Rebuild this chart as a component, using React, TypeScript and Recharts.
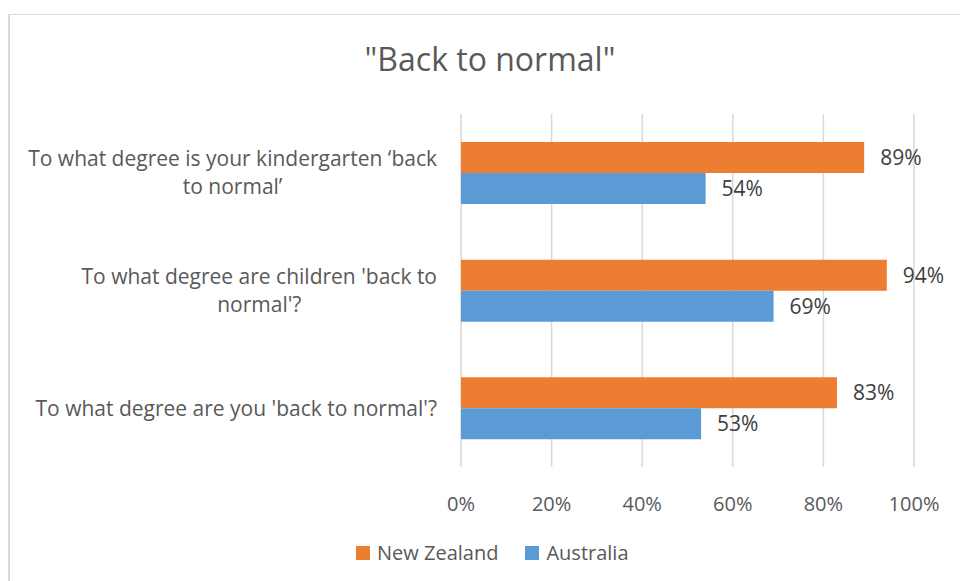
import React from 'react';
import { BarChart, Bar, XAxis, YAxis, CartesianGrid, Legend, LabelList } from 'recharts';

const categoryLines: string[][] = [
  ['To what degree is your kindergarten \u2018back', 'to normal\u2019'],
  ["To what degree are children 'back to", "normal'?"],
  ["To what degree are you 'back to normal'?"],
];
const categories = categoryLines.map((l) => l.join(' '));
const newZealand = [89, 94, 83];
const australia = [54, 69, 53];
const xTicks = [0, 20, 40, 60, 80, 100];
const seriesNames = ['New Zealand', 'Australia'];
const seriesColors = ['#ED7D31', '#5B9BD5'];
const title = '"Back to normal"';

const data = categories.map((c, i) => ({ category: c, nz: newZealand[i], au: australia[i] }));

const FONT = '"Open Sans", sans-serif';

let ctx: CanvasRenderingContext2D | null = null;
const measure = (text: string, size: number) => {
  if (!ctx) ctx = document.createElement('canvas').getContext('2d');
  if (!ctx) return text.length * size * 0.5;
  ctx.font = `${size}px "Open Sans"`;
  return ctx.measureText(text).width;
};

const CategoryTick = (props: any) => {
  const { x, y, payload } = props;
  const idx = categories.indexOf(payload.value);
  const lines = idx >= 0 ? categoryLines[idx] : [String(payload.value)];
  const size = 21;
  const maxW = Math.max(...lines.map((l) => measure(l, size)));
  const right = x - 24;
  const cx = right - maxW / 2;
  const lh = 28;
  const n = lines.length;
  return (
    <g>
      {lines.map((l, i) => (
        <text
          key={i}
          x={cx}
          y={y + 7.5 + (i - (n - 1) / 2) * lh}
          textAnchor="middle"
          fontSize={size}
          fontFamily={FONT}
          fill="#595959"
        >
          {l}
        </text>
      ))}
    </g>
  );
};

const XTick = (props: any) => {
  const { x, y, payload } = props;
  return (
    <text x={x} y={y + 44} textAnchor="middle" fontSize={20} fontFamily={FONT} fill="#595959">
      {`${payload.value}%`}
    </text>
  );
};

const LegendContent = () => (
  <div style={{ height: 24, position: 'relative', fontFamily: FONT, fontSize: 20, color: '#595959' }}>
    <div style={{ position: 'absolute', left: 356, top: 0, display: 'flex', alignItems: 'center', height: 24 }}>
      {seriesNames.map((name, i) => (
        <div key={name} style={{ display: 'flex', alignItems: 'center', marginRight: 27 }}>
          <span style={{ display: 'inline-block', width: 14, height: 14, background: seriesColors[i], marginRight: 7 }} />
          <span style={{ lineHeight: '24px', whiteSpace: 'nowrap' }}>{name}</span>
        </div>
      ))}
    </div>
  </div>
);

export default function App() {
  return (
    <div
      style={{
        position: 'absolute',
        left: 0,
        top: 0,
        width: 960,
        height: 581,
        overflow: 'hidden',
        background: '#fff',
        fontFamily: FONT,
      }}
    >
      <div
        style={{
          position: 'absolute',
          left: 8,
          top: 14,
          width: 1000,
          height: 700,
          borderLeft: '2px solid #d9d9d9',
          borderTop: '1.5px solid #d9d9d9',
          boxSizing: 'border-box',
        }}
      />
      <svg style={{ position: 'absolute', left: 0, top: 0 }} width={960} height={100}>
        <text x={490} y={71} textAnchor="middle" fontSize={32} fontFamily={FONT} fill="#595959">
          {title}
        </text>
      </svg>
      <div style={{ position: 'absolute', left: 0, top: 0 }}>
        <BarChart
          width={960}
          height={581}
          data={data}
          layout="vertical"
          margin={{ top: 114, right: 46, left: 9, bottom: 50 }}
          barGap={0}
          barSize={31}
        >
          <CartesianGrid horizontal={false} stroke="#d9d9d9" strokeWidth={1.5} />
          <XAxis
            type="number"
            domain={[0, 100]}
            ticks={xTicks}
            tick={<XTick />}
            axisLine={false}
            tickLine={false}
            tickSize={0}
            tickMargin={0}
            height={40}
            interval={0}
          />
          <YAxis
            type="category"
            dataKey="category"
            width={452}
            tick={<CategoryTick />}
            axisLine={false}
            tickLine={false}
            tickSize={0}
            tickMargin={0}
            interval={0}
          />
          <Legend
            verticalAlign="bottom"
            content={<LegendContent />}
            wrapperStyle={{ top: 541, left: 0, bottom: 'auto', width: 960, height: 24 }}
          />
          <Bar dataKey="nz" name={seriesNames[0]} fill={seriesColors[0]} isAnimationActive={false}>
            <LabelList
              dataKey="nz"
              position="right"
              offset={16}
              formatter={(v: any) => `${v}%`}
              fontSize={21}
              fontFamily={FONT}
              fill="#404040"
            />
          </Bar>
          <Bar dataKey="au" name={seriesNames[1]} fill={seriesColors[1]} isAnimationActive={false}>
            <LabelList
              dataKey="au"
              position="right"
              offset={16}
              formatter={(v: any) => `${v}%`}
              fontSize={21}
              fontFamily={FONT}
              fill="#404040"
            />
          </Bar>
        </BarChart>
      </div>
    </div>
  );
}
